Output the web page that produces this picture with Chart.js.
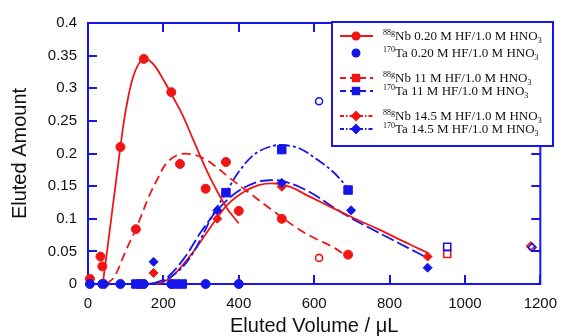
<!DOCTYPE html>
<html><head><meta charset="utf-8">
<script src="https://cdn.jsdelivr.net/npm/chart.js@4.4.1/dist/chart.umd.min.js"></script>
<style>html,body{margin:0;padding:0;background:#fff}#wrap{width:568px;height:336px;position:relative}</style>
</head><body><div id="wrap"><canvas id="c"></canvas></div>
<script>
// ---------- data ----------
const xTicks = [0, 200, 400, 600, 800, 1000, 1200];
const yTicks = [0, 0.05, 0.1, 0.15, 0.2, 0.25, 0.3, 0.35, 0.4];

// measured points
const nb020Vol = [5, 33, 38, 86, 148, 221, 312, 400];
const nb020Amt = [0.008, 0.042, 0.027, 0.21, 0.345, 0.294, 0.146, 0.112];
const ta020Vol = [5, 38, 86, 148, 221, 312, 400];
const ta020Amt = [0, 0, 0, 0, 0, 0, 0];
const nb11Vol = [127, 244, 366, 514, 690];
const nb11Amt = [0.084, 0.184, 0.187, 0.1, 0.045];
const ta11Vol = [127, 140, 230, 250, 366, 514, 690];
const ta11Amt = [0, 0, 0, 0, 0.14, 0.206, 0.144];
const nb145Vol = [45, 174, 343, 514, 901];
const nb145Amt = [0, 0.017, 0.1, 0.149, 0.042];
const ta145Vol = [45, 174, 343, 514, 698, 901];
const ta145Amt = [0, 0.034, 0.113, 0.155, 0.113, 0.025];

// open symbols
const nbOpenCircVol = [613], nbOpenCircAmt = [0.04];
const taOpenCircVol = [613], taOpenCircAmt = [0.28];
const nbOpenSqVol = [953], nbOpenSqAmt = [0.046];
const taOpenSqVol = [953], taOpenSqAmt = [0.057];
const nbOpenDiaVol = [1175], nbOpenDiaAmt = [0.058];
const taOpenDiaVol = [1178], taOpenDiaAmt = [0.056];

// fitted curves
const fitNb020Vol = [39, 46, 56, 66, 76, 86, 96, 108, 120, 134, 148, 162, 180, 205, 225, 250, 280, 310, 340, 370, 400];
const fitNb020Amt = [0, 0.03, 0.075, 0.12, 0.165, 0.21, 0.252, 0.29, 0.318, 0.337, 0.345, 0.343, 0.332, 0.308, 0.287, 0.26, 0.22, 0.18, 0.145, 0.115, 0.093];
const fitNb11Vol = [49, 70, 101, 127, 161, 187, 208, 239, 273, 309, 343, 377, 434, 473, 551, 595, 655, 688];
const fitNb11Amt = [0, 0.011, 0.052, 0.084, 0.133, 0.164, 0.185, 0.198, 0.199, 0.192, 0.178, 0.162, 0.137, 0.12, 0.087, 0.072, 0.055, 0.041];
const fitTa11Vol = [160, 200, 240, 270, 300, 330, 366, 400, 440, 480, 514, 560, 610, 650, 690];
const fitTa11Amt = [0, 0.005, 0.02, 0.04, 0.07, 0.105, 0.14, 0.172, 0.198, 0.21, 0.213, 0.208, 0.19, 0.172, 0.147];
const fitNb145Vol = [180, 210, 239, 283, 325, 369, 413, 455, 499, 540, 584, 630, 673, 720, 770, 820, 860, 900];
const fitNb145Amt = [0, 0.006, 0.021, 0.052, 0.087, 0.121, 0.141, 0.152, 0.154, 0.148, 0.135, 0.122, 0.11, 0.097, 0.084, 0.07, 0.059, 0.048];
const fitTa145Vol = [170, 210, 257, 300, 343, 395, 447, 480, 514, 560, 603, 650, 698, 750, 800, 850, 901];
const fitTa145Amt = [0, 0.01, 0.041, 0.08, 0.113, 0.141, 0.156, 0.159, 0.158, 0.149, 0.136, 0.118, 0.101, 0.085, 0.07, 0.055, 0.04];

// legend labels
const legendIso = ['88g', '170', '88g', '170', '88g', '170'];
const legendEl = ['Nb', 'Ta', 'Nb', 'Ta', 'Nb', 'Ta'];
const legendCond = ['0.20 M HF/1.0 M HNO', '0.20 M HF/1.0 M HNO', '11 M HF/1.0 M HNO', '11 M HF/1.0 M HNO', '14.5 M HF/1.0 M HNO', '14.5 M HF/1.0 M HNO'];
const legendSub = '3';

// ---------- styling ----------
const RED = 'rgb(240,22,22)';
const BLUE = 'rgb(22,22,235)';
const SANS = '"Liberation Sans", Arial, Helvetica, sans-serif';
const SERIF = '"Liberation Serif", "Times New Roman", serif';

const pts = (xs, ys) => xs.map((x, i) => ({x, y: ys[i]}));

function markers(xs, ys, color, style, r, order) {
  return {type: 'scatter', data: pts(xs, ys), showLine: false, pointStyle: style,
    pointRadius: r, backgroundColor: color, borderColor: color, borderWidth: 1, order, clip: false};
}
function openMarkers(xs, ys, color, style, r, order) {
  return {type: 'scatter', data: pts(xs, ys), showLine: false, pointStyle: style,
    pointRadius: r, backgroundColor: 'rgba(255,255,255,0)', borderColor: color, borderWidth: 1.6, order, clip: false};
}
function curve(xs, ys, color, dash, order) {
  return {type: 'line', data: pts(xs, ys), showLine: true, pointRadius: 0, borderColor: color,
    borderWidth: 1.8, borderDash: dash, fill: false, tension: 0.35, order, clip: false};
}

const datasets = [
  curve(fitNb020Vol, fitNb020Amt, RED, [], 20),
  curve(fitNb11Vol, fitNb11Amt, RED, [9, 5], 20),
  curve(fitTa11Vol, fitTa11Amt, BLUE, [11, 3, 3, 3], 20),
  curve(fitNb145Vol, fitNb145Amt, RED, [], 20),
  curve(fitTa145Vol, fitTa145Amt, BLUE, [13, 4], 20),
  markers(nb020Vol, nb020Amt, RED, 'circle', 4.5, 8),
  markers(nb11Vol, nb11Amt, RED, 'circle', 4.5, 8),
  markers(nb145Vol, nb145Amt, RED, 'rectRot', 4.5, 8),
  openMarkers(nbOpenCircVol, nbOpenCircAmt, RED, 'circle', 3.5, 6),
  openMarkers(nbOpenSqVol, nbOpenSqAmt, RED, 'rect', 5, 6),
  openMarkers(nbOpenDiaVol, nbOpenDiaAmt, RED, 'rectRot', 4, 6),
  openMarkers(taOpenCircVol, taOpenCircAmt, BLUE, 'circle', 3.5, 5),
  openMarkers(taOpenSqVol, taOpenSqAmt, BLUE, 'rect', 5, 5),
  openMarkers(taOpenDiaVol, taOpenDiaAmt, BLUE, 'rectRot', 4, 5),
  markers(ta145Vol, ta145Amt, BLUE, 'rectRot', 4.5, 3),
  markers(ta11Vol, ta11Amt, BLUE, 'rect', 6, 2),
  markers(ta020Vol, ta020Amt, BLUE, 'circle', 4.5, 1),
];

// frame + inward ticks
const framePlugin = {
  id: 'frame',
  beforeDatasetsDraw(chart) {
    const {ctx, chartArea: a, scales} = chart;
    ctx.save();
    ctx.strokeStyle = BLUE; ctx.lineWidth = 2;
    ctx.strokeRect(a.left, a.top, a.right - a.left, a.bottom - a.top);
    ctx.beginPath();
    xTicks.forEach(v => {
      const px = Math.round(scales.x.getPixelForValue(v));
      ctx.moveTo(px, a.bottom); ctx.lineTo(px, a.bottom - 9);
      ctx.moveTo(px, a.top); ctx.lineTo(px, a.top + 9);
    });
    yTicks.forEach(v => {
      const py = Math.round(scales.y.getPixelForValue(v));
      ctx.moveTo(a.left, py); ctx.lineTo(a.left + 9, py);
      ctx.moveTo(a.right, py); ctx.lineTo(a.right - 9, py);
    });
    ctx.stroke();
    ctx.restore();
  }
};

function drawMark(ctx, style, x, y, r, color) {
  ctx.fillStyle = color;
  ctx.beginPath();
  if (style === 'circle') ctx.arc(x, y, r, 0, Math.PI * 2);
  else if (style === 'rect') ctx.rect(x - r, y - r, 2 * r, 2 * r);
  else { ctx.moveTo(x - r, y); ctx.lineTo(x, y - r); ctx.lineTo(x + r, y); ctx.lineTo(x, y + r); ctx.closePath(); }
  ctx.fill();
}

const legendPlugin = {
  id: 'customLegend',
  afterDatasetsDraw(chart) {
    const ctx = chart.ctx;
    const box = {x: 332, y: 22, w: 221, h: 124};
    ctx.save();
    ctx.fillStyle = '#fff';
    ctx.fillRect(box.x, box.y, box.w, box.h);
    ctx.strokeStyle = BLUE; ctx.lineWidth = 2;
    ctx.strokeRect(box.x, box.y, box.w, box.h);
    const rowsY = [36, 53, 78, 91, 116, 129];
    const colors = [RED, BLUE, RED, BLUE, RED, BLUE];
    const lines = [[ ], null, [6, 4], [6, 4], [4, 2, 1.5, 2], [4, 2, 1.5, 2]];
    const styles = ['circle', 'circle', 'rect', 'rect', 'rectRot', 'rectRot'];
    const sizes = [4.5, 4.5, 4.2, 4.2, 5.5, 5.5];
    for (let i = 0; i < 6; i++) {
      const y = rowsY[i];
      ctx.strokeStyle = colors[i]; ctx.lineWidth = 2;
      if (lines[i]) {
        ctx.setLineDash(lines[i]);
        ctx.beginPath(); ctx.moveTo(340, y); ctx.lineTo(373, y); ctx.stroke();
        ctx.setLineDash([]);
      }
      drawMark(ctx, styles[i], 356, y, sizes[i], colors[i]);
      let tx = 383;
      const base = y + 4;
      ctx.fillStyle = '#111';
      ctx.textBaseline = 'alphabetic';
      ctx.font = '8px ' + SERIF;
      ctx.fillText(legendIso[i], tx, base - 5);
      tx += ctx.measureText(legendIso[i]).width;
      ctx.font = '13px ' + SERIF;
      const main = legendEl[i] + ' ' + legendCond[i];
      ctx.fillText(main, tx, base);
      tx += ctx.measureText(main).width;
      ctx.font = '8px ' + SERIF;
      ctx.fillText(legendSub, tx, base + 3);
    }
    ctx.restore();
  }
};

new Chart(document.getElementById('c'), {
  type: 'scatter',
  data: {datasets},
  options: {
    responsive: true, maintainAspectRatio: false, animation: false, devicePixelRatio: 1,
    layout: {padding: {top: 23, right: 18, left: 0, bottom: 0}},
    plugins: {legend: {display: false}, tooltip: {enabled: false}},
    scales: {
      x: {
        type: 'linear', min: 0, max: 1200,
        afterFit: s => { s.height = 52; },
        afterBuildTicks: s => { s.ticks = xTicks.map(v => ({value: v})); },
        grid: {display: false, drawTicks: false}, border: {display: false},
        ticks: {padding: 11, color: '#111', font: {family: SANS, size: 15}, maxRotation: 0,
          callback: v => String(v)},
        title: {display: true, text: 'Eluted Volume / μL', color: '#111',
          font: {family: SANS, size: 20, lineHeight: 1}, padding: {top: 0, bottom: 0}}
      },
      y: {
        type: 'linear', min: 0, max: 0.4,
        afterFit: s => { s.width = 88; },
        afterBuildTicks: s => { s.ticks = yTicks.map(v => ({value: v})); },
        grid: {display: false, drawTicks: false}, border: {display: false},
        ticks: {padding: 11, color: '#111', font: {family: SANS, size: 15},
          callback: v => String(Math.round(v * 100) / 100)},
        title: {display: true, text: 'Eluted Amount', color: '#111',
          font: {family: SANS, size: 20, lineHeight: 1}, padding: {top: 10, bottom: 0}}
      }
    }
  },
  plugins: [framePlugin, legendPlugin]
});
</script>
</body></html>
